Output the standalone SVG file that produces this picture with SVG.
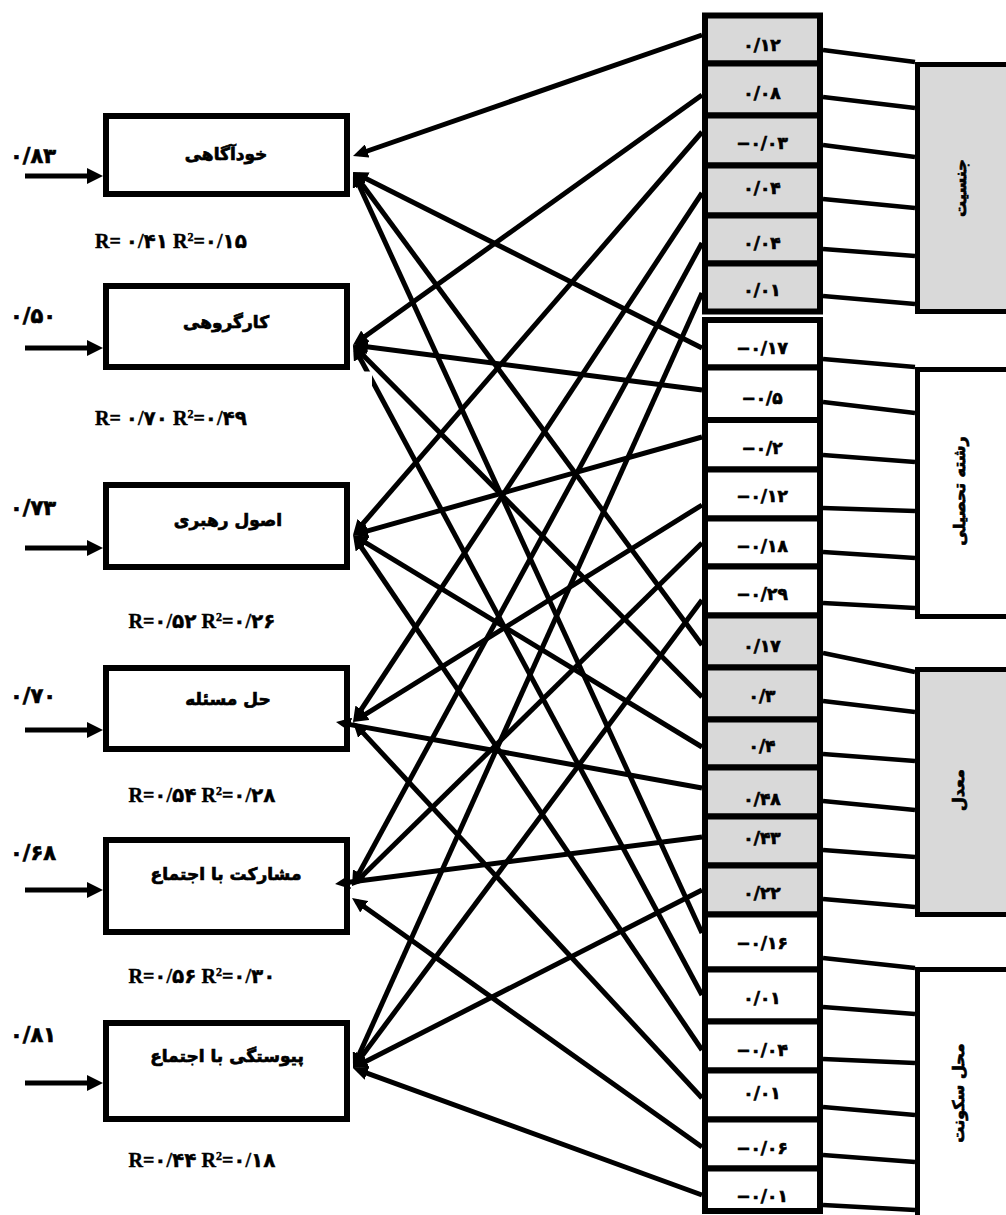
<svg xmlns="http://www.w3.org/2000/svg" width="1006" height="1215" viewBox="0 0 1006 1215">
<style>
.box{fill:#fff;stroke:#000;stroke-width:6}
.cg{fill:#d9d9d9;stroke:#000;stroke-width:6}
.cw{fill:#fff;stroke:#000;stroke-width:6}
.gg{fill:#d9d9d9;stroke:#000;stroke-width:5}
.gw{fill:#fff;stroke:#000;stroke-width:5}
.fa{font-family:"DejaVu Sans",sans-serif;font-weight:bold;fill:#000;stroke:#000;stroke-width:0.7}
.lbl{font-size:17px;text-anchor:middle}
.cv{font-size:17px;text-anchor:middle}
.gl{font-size:16px;text-anchor:middle;dominant-baseline:central}
.in{font-size:21px}
.rl{font-family:"Liberation Serif","DejaVu Sans",serif;font-weight:bold;font-size:20px;text-anchor:middle;fill:#000;stroke:#000;stroke-width:0.4}
.sup{font-size:12px;baseline-shift:super}
.ar{stroke:#000;stroke-width:5;fill:none;marker-end:url(#ah)}
.ia{stroke:#000;stroke-width:5;fill:none;marker-end:url(#ah2)}
.ln{stroke:#000;stroke-width:4.5;fill:none}
</style>
<defs>
<marker id="ah" markerUnits="userSpaceOnUse" markerWidth="15" markerHeight="14" refX="9" refY="7" orient="auto"><path d="M0,0 L15,7 L0,14 z" fill="#000"/></marker>
<marker id="ah2" markerUnits="userSpaceOnUse" markerWidth="16" markerHeight="16" refX="10" refY="8" orient="auto"><path d="M0,0 L16,8 L0,16 z" fill="#000"/></marker>
</defs>
<rect width="1006" height="1215" fill="#fff"/>

<g id="box1"><rect class="box" x="106" y="116" width="241" height="78"/><text class="fa lbl" x="226" y="160">خودآگاهی</text></g>
<g id="box2"><rect class="box" x="106" y="286" width="241" height="81"/><text class="fa lbl" x="226" y="328">کارگروهی</text></g>
<g id="box3"><rect class="box" x="106" y="485" width="241" height="82"/><text class="fa lbl" x="228" y="526">اصول رهبری</text></g>
<g id="box4"><rect class="box" x="106" y="668" width="241" height="81"/><text class="fa lbl" x="228" y="705">حل مسئله</text></g>
<g id="box5"><rect class="box" x="106" y="840" width="241" height="92"/><text class="fa lbl" x="226" y="880">مشارکت با اجتماع</text></g>
<g id="box6"><rect class="box" x="106" y="1023" width="241" height="96"/><text class="fa lbl" x="227" y="1062">پیوستگی با اجتماع</text></g>

<g id="g-gender"><rect class="gg" x="917.5" y="64.5" width="100" height="247"/><text class="fa gl" transform="translate(960,188) rotate(-90)">جنسیت</text></g>
<g id="g-field"><rect class="gw" x="917.5" y="369.5" width="100" height="247"/><text class="fa gl" transform="translate(959,491) rotate(-90)">رشته تحصیلی</text></g>
<g id="g-gpa"><rect class="gg" x="917.5" y="669.5" width="100" height="245"/><text class="fa gl" transform="translate(958,790) rotate(-90)">معدل</text></g>
<g id="g-home"><rect class="gw" x="917.5" y="969.5" width="100" height="260"/><text class="fa gl" transform="translate(958,1093) rotate(-90)">محل سکونت</text></g>

<g id="cells1">
<g id="c1"><rect class="cg" x="705" y="15.5" width="115" height="48"/><text class="fa cv" x="762" y="51">۰/۱۲</text></g>
<g id="c2"><rect class="cg" x="705" y="63.5" width="115" height="52"/><text class="fa cv" x="762" y="99">۰/۰۸</text></g>
<g id="c3"><rect class="cg" x="705" y="115.5" width="115" height="50"/><text class="fa cv" x="762" y="149">−۰/۰۳</text></g>
<g id="c4"><rect class="cg" x="705" y="165.5" width="115" height="50"/><text class="fa cv" x="762" y="194">۰/۰۴</text></g>
<g id="c5"><rect class="cg" x="705" y="215.5" width="115" height="48"/><text class="fa cv" x="762" y="249">۰/۰۴</text></g>
<g id="c6"><rect class="cg" x="705" y="263.5" width="115" height="48"/><text class="fa cv" x="762" y="296">۰/۰۱</text></g>
</g>
<g id="cells2">
<g id="c7"><rect class="cw" x="705" y="320" width="115" height="47.5"/><text class="fa cv" x="762" y="354">−۰/۱۷</text></g>
<g id="c8"><rect class="cw" x="705" y="367.5" width="115" height="52.5"/><text class="fa cv" x="762" y="404">−۰/۵</text></g>
<g id="c9"><rect class="cw" x="705" y="420" width="115" height="49.5"/><text class="fa cv" x="762" y="454">−۰/۲</text></g>
<g id="c10"><rect class="cw" x="705" y="469.5" width="115" height="49"/><text class="fa cv" x="762" y="502">−۰/۱۲</text></g>
<g id="c11"><rect class="cw" x="705" y="518.5" width="115" height="48"/><text class="fa cv" x="762" y="552">−۰/۱۸</text></g>
<g id="c12"><rect class="cw" x="705" y="566.5" width="115" height="49"/><text class="fa cv" x="762" y="600">−۰/۲۹</text></g>
</g>
<g id="cells3">
<g id="c13"><rect class="cg" x="705" y="615.5" width="115" height="52"/><text class="fa cv" x="762" y="652">۰/۱۷</text></g>
<g id="c14"><rect class="cg" x="705" y="667.5" width="115" height="52"/><text class="fa cv" x="762" y="702">۰/۳</text></g>
<g id="c15"><rect class="cg" x="705" y="719.5" width="115" height="48"/><text class="fa cv" x="762" y="752">۰/۴</text></g>
<g id="c16"><rect class="cg" x="705" y="767.5" width="115" height="49"/><text class="fa cv" x="762" y="805">۰/۴۸</text></g>
<g id="c17"><rect class="cg" x="705" y="816.5" width="115" height="49"/><text class="fa cv" x="762" y="844">۰/۴۳</text></g>
<g id="c18"><rect class="cg" x="705" y="865.5" width="115" height="49"/><text class="fa cv" x="762" y="899">۰/۲۲</text></g>
</g>
<g id="cells4">
<g id="c19"><rect class="cw" x="705" y="914.5" width="115" height="55"/><text class="fa cv" x="762" y="949">−۰/۱۶</text></g>
<g id="c20"><rect class="cw" x="705" y="969.5" width="115" height="52"/><text class="fa cv" x="762" y="1004">۰/۰۱</text></g>
<g id="c21"><rect class="cw" x="705" y="1021.5" width="115" height="49"/><text class="fa cv" x="762" y="1056">−۰/۰۴</text></g>
<g id="c22"><rect class="cw" x="705" y="1070.5" width="115" height="49"/><text class="fa cv" x="762" y="1099">۰/۰۱</text></g>
<g id="c23"><rect class="cw" x="705" y="1119.5" width="115" height="49"/><text class="fa cv" x="762" y="1154">−۰/۰۶</text></g>
<g id="c24"><rect class="cw" x="705" y="1168.5" width="115" height="42.5"/><text class="fa cv" x="762" y="1202">−۰/۰۱</text></g>
</g>

<g id="connectors">
<g id="links">
<line class="ln" x1="823" y1="50" x2="915" y2="62"/>
<line class="ln" x1="823" y1="97" x2="915" y2="108"/>
<line class="ln" x1="823" y1="145" x2="915" y2="157"/>
<line class="ln" x1="823" y1="199" x2="915" y2="208"/>
<line class="ln" x1="823" y1="249" x2="915" y2="256"/>
<line class="ln" x1="823" y1="296" x2="915" y2="304"/>
<line class="ln" x1="823" y1="359" x2="915" y2="367"/>
<line class="ln" x1="823" y1="402" x2="915" y2="413"/>
<line class="ln" x1="823" y1="455" x2="915" y2="462"/>
<line class="ln" x1="823" y1="508" x2="915" y2="511"/>
<line class="ln" x1="823" y1="552" x2="915" y2="558"/>
<line class="ln" x1="823" y1="603" x2="915" y2="608"/>
<line class="ln" x1="823" y1="653" x2="915" y2="672"/>
<line class="ln" x1="823" y1="701" x2="915" y2="712"/>
<line class="ln" x1="823" y1="754" x2="915" y2="761"/>
<line class="ln" x1="823" y1="801" x2="915" y2="810"/>
<line class="ln" x1="823" y1="850" x2="915" y2="857"/>
<line class="ln" x1="823" y1="899" x2="915" y2="907"/>
<line class="ln" x1="823" y1="958" x2="915" y2="968"/>
<line class="ln" x1="823" y1="1007" x2="915" y2="1014"/>
<line class="ln" x1="823" y1="1059" x2="915" y2="1063"/>
<line class="ln" x1="823" y1="1107" x2="915" y2="1115"/>
<line class="ln" x1="823" y1="1155" x2="915" y2="1162"/>
<line class="ln" x1="823" y1="1205" x2="915" y2="1210"/>
</g>
<g id="inputs">
<line class="ia" x1="25" y1="176" x2="97" y2="176"/>
<line class="ia" x1="25" y1="348" x2="97" y2="348"/>
<line class="ia" x1="25" y1="548" x2="97" y2="548"/>
<line class="ia" x1="25" y1="730" x2="97" y2="730"/>
<line class="ia" x1="25" y1="890" x2="97" y2="890"/>
<line class="ia" x1="25" y1="1083" x2="97" y2="1083"/>
</g>
<g id="paths">
<line class="ar" x1="702" y1="35" x2="358.7" y2="154"/>
<line class="ar" x1="702" y1="348" x2="358.4" y2="174.7"/>
<line class="ar" x1="702" y1="645" x2="356.6" y2="176.8"/>
<line class="ar" x1="702" y1="933" x2="355.5" y2="177.5"/>
<line class="ar" x1="702" y1="95" x2="357.9" y2="341.5"/>
<line class="ar" x1="702" y1="390" x2="359" y2="345.8"/>
<line class="ar" x1="702" y1="697" x2="357.2" y2="349.3"/>
<line class="ar" x1="702" y1="995" x2="355.8" y2="350.3"/>
<line class="ar" x1="702" y1="132" x2="356.9" y2="530.5"/>
<line class="ar" x1="702" y1="437" x2="358.8" y2="533.4"/>
<line class="ar" x1="702" y1="747" x2="358.1" y2="538.1"/>
<line class="ar" x1="702" y1="1050" x2="356.4" y2="540"/>
<line class="ar" x1="702" y1="193" x2="356.3" y2="717"/>
<line class="ar" x1="702" y1="505" x2="358.1" y2="718.8"/>
<line class="ar" x1="702" y1="788" x2="341.9" y2="723.1"/>
<line class="ar" x1="702" y1="1098" x2="357.1" y2="726.4"/>
<line class="ar" x1="702" y1="243" x2="354.9" y2="880.7"/>
<line class="ar" x1="702" y1="543" x2="356.3" y2="881.8"/>
<line class="ar" x1="702" y1="837" x2="341" y2="883.2"/>
<line class="ar" x1="702" y1="1147" x2="356.9" y2="901.5"/>
<line class="ar" x1="702" y1="293" x2="355.5" y2="1062.5"/>
<line class="ar" x1="702" y1="600" x2="356.6" y2="1063.2"/>
<line class="ar" x1="702" y1="890" x2="358.3" y2="1065.3"/>
<line class="ar" x1="702" y1="1195" x2="358.6" y2="1070.1"/>
</g>
</g>

<g id="annotations">
<rect x="300" y="371.5" width="72" height="16.5" fill="#fff"/>
<text class="fa in" x="10" y="163">۰/۸۳</text>
<text class="fa in" x="10" y="323">۰/۵۰</text>
<text class="fa in" x="10" y="515">۰/۷۳</text>
<text class="fa in" x="10" y="703">۰/۷۰</text>
<text class="fa in" x="10" y="860">۰/۶۸</text>
<text class="fa in" x="10" y="1042">۰/۸۱</text>
<text class="rl" x="171" y="248">R= ۰/۴۱ R<tspan class="sup">2</tspan>=۰/۱۵</text>
<text class="rl" x="171" y="425">R= ۰/۷۰ R<tspan class="sup">2</tspan>=۰/۴۹</text>
<text class="rl" x="202" y="628">R=۰/۵۲ R<tspan class="sup">2</tspan>=۰/۲۶</text>
<text class="rl" x="202" y="802">R=۰/۵۴ R<tspan class="sup">2</tspan>=۰/۲۸</text>
<text class="rl" x="202" y="983">R=۰/۵۶ R<tspan class="sup">2</tspan>=۰/۳۰</text>
<text class="rl" x="202" y="1167">R=۰/۴۴ R<tspan class="sup">2</tspan>=۰/۱۸</text>
</g>
</svg>
